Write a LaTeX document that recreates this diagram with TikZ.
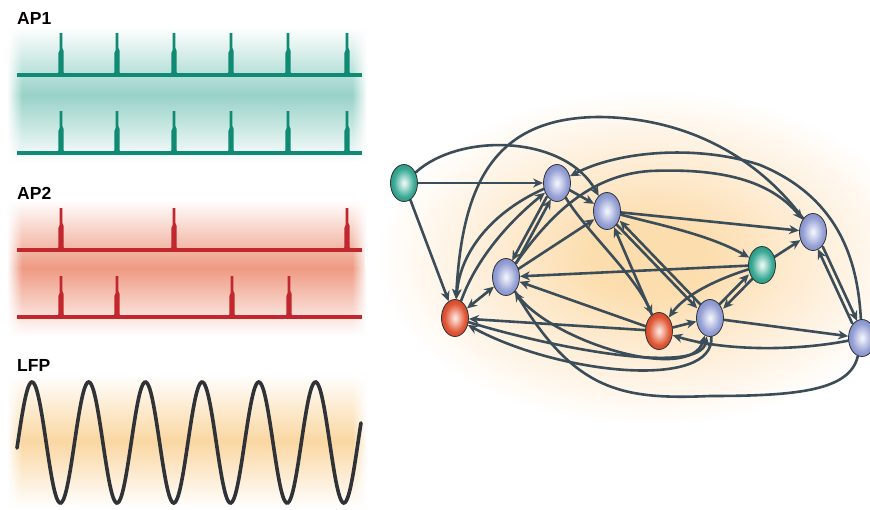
\documentclass[tikz,border=0pt]{standalone}
\usepackage{fontspec}
\setmainfont{Liberation Sans}
\usetikzlibrary{arrows.meta,fadings,shapes.geometric}
\definecolor{edgec}{HTML}{3A4D59}
\definecolor{nodeedge}{HTML}{2E3438}
\definecolor{bluein}{HTML}{EEF0FA}
\definecolor{blueout}{HTML}{95A0D4}
\definecolor{blueedge}{HTML}{8692CB}
\definecolor{greenin}{HTML}{E2F5F1}
\definecolor{greenout}{HTML}{3BAA95}
\definecolor{greenedge}{HTML}{2C9A84}
\definecolor{redin}{HTML}{FCE0D6}
\definecolor{redout}{HTML}{E05838}
\definecolor{rededge}{HTML}{D44A2C}
\definecolor{glowA}{HTML}{FCDDAD}
\definecolor{glowB}{HTML}{FEEDD6}
\definecolor{aponec}{HTML}{0F8A73}
\definecolor{aponebg}{HTML}{98D2C8}
\definecolor{aptwoc}{HTML}{C1272D}
\definecolor{aptwobg}{HTML}{EE9A82}
\definecolor{lfpc}{HTML}{2F3236}
\definecolor{lfpbg}{HTML}{FAD7A2}
\tikzfading[name=myfadeR, left color=transparent!0, right color=transparent!100]
\tikzfading[name=myfadeL, left color=transparent!100, right color=transparent!0]
\pgfdeclareradialshading{netglow}{\pgfpoint{0bp}{0bp}}{color(0bp)=(glowA); color(5bp)=(glowA); color(14bp)=(glowB); color(24bp)=(white); color(50bp)=(white)}
\pgfdeclareradialshading{bshade}{\pgfpoint{0bp}{0bp}}{color(0bp)=(bluein); color(2bp)=(bluein); color(19bp)=(blueout); color(25bp)=(blueedge); color(50bp)=(blueedge)}
\pgfdeclareradialshading{gshade}{\pgfpoint{0bp}{0bp}}{color(0bp)=(greenin); color(2bp)=(greenin); color(19bp)=(greenout); color(25bp)=(greenedge); color(50bp)=(greenedge)}
\pgfdeclareradialshading{rshade}{\pgfpoint{0bp}{0bp}}{color(0bp)=(redin); color(2bp)=(redin); color(19bp)=(redout); color(25bp)=(rededge); color(50bp)=(rededge)}
\pgfdeclarelayer{bg}
\pgfdeclarelayer{edgelayer}
\pgfsetlayers{bg,edgelayer,main}
\newcommand{\apspike}[3]{%
  \fill ({#1-1.4},#3) -- ({#1+1.4},#3) -- ({#1+1.4},{#3+15}) -- ({#1+2.6},{#3+18})
   -- ({#1+2.6},{#2-3}) -- ({#1+4},#2) -- ({#1-4},#2) -- ({#1-2.6},{#2-3})
   -- ({#1-2.6},{#3+20}) -- ({#1-1.4},{#3+17}) -- cycle;}
\begin{document}
\begin{tikzpicture}[x=1pt,y=-1pt,
  edge/.style={draw=edgec, line width=2.6pt, line cap=round, -{Stealth[length=10pt,width=9pt]}},
  edgeboth/.style={edge, {Stealth[length=10pt,width=9pt]}-{Stealth[length=10pt,width=9pt]}},
  neuron/.style={ellipse, draw=nodeedge, line width=0.8pt, minimum width=27pt, minimum height=37pt, inner sep=0pt},
  bnode/.style={neuron, shading=bshade},
  gnode/.style={neuron, shading=gshade},
  rnode/.style={neuron, shading=rshade},
  lbl/.style={anchor=base west, font=\fontsize{17.5}{20}\selectfont\bfseries, inner sep=0pt},
  trace/.style={line width=3.2pt}
]
\useasboundingbox (0,0) rectangle (870,509);

\begin{pgfonlayer}{bg}
  % panels
  \shade[top color=white, bottom color=white, middle color=aponebg] (8,27) rectangle (366,163);
  \shade[top color=white, bottom color=white, middle color=aptwobg] (8,200) rectangle (366,336);
  \shade[top color=white, bottom color=white, middle color=lfpbg] (8,374) rectangle (366,508);
  \foreach \ya/\yb in {27/163,200/336,374/508}{
    \fill[white, path fading=myfadeR] (7,\ya) rectangle (22,\yb);
    \fill[white, path fading=myfadeL] (352,\ya) rectangle (367,\yb);
  }
  % network glow
  \shade[shading=netglow] (650,258) ellipse [x radius=285, y radius=175];
\end{pgfonlayer}

% labels
\node[lbl] (t1) at (17,24) {AP1};
\node[lbl] (t2) at (17,199) {AP2};
\node[lbl] (t3) at (17,371) {LFP};

% AP1 traces
\begin{scope}[color=aponec, fill=aponec]
  \draw[trace] (17,75) -- (362,75);
  \draw[trace] (17,153) -- (362,153);
  \foreach \x in {61,117,174,231,288,347}{
    \apspike{\x}{75}{33}
    \apspike{\x}{153}{111}
  }
\end{scope}

% AP2 traces
\begin{scope}[color=aptwoc, fill=aptwoc]
  \draw[trace] (17,250) -- (362,250);
  \draw[trace] (17,317) -- (362,317);
  \foreach \x in {61,174,347}{ \apspike{\x}{250}{208} }
  \foreach \x in {61,117,232,289}{ \apspike{\x}{317}{276} }
\end{scope}

% LFP
\draw[lfpc, line width=3.6pt, line cap=round] plot[domain=17:361, samples=260, smooth] (\x,{442.5-60.5*sin((\x-32)*6.3492+90)});

% network nodes
\node[gnode] (G1) at (404,183) {};
\node[bnode] (B1) at (557,183) {};
\node[bnode] (B2) at (607,211) {};
\node[bnode] (B3) at (506,277) {};
\node[rnode] (R1) at (455,318) {};
\node[gnode] (G2) at (762,265) {};
\node[bnode] (B4) at (813,232) {};
\node[rnode] (R2) at (659,331) {};
\node[bnode] (B5) at (710,318) {};
\node[bnode] (B6) at (862,338) {};

\begin{pgfonlayer}{edgelayer}
\draw[edge] (G1) -- (B1);
\draw[edge] (G1) -- (R1);
\draw[edge] (G1) .. controls (460,132) and (565,135) .. (B2);
\draw[edge] (B4) .. controls (760,160) and (690,118) .. (600,117) .. controls (490,117) and (462,190) .. (R1);
\draw[edge] (B6) .. controls (858,270) and (845,200) .. (760,165) .. controls (700,145) and (620,150) .. (B1);
\draw[edge] (B3) .. controls (550,215) and (590,175) .. (650,171) .. controls (720,168) and (770,180) .. (B4);
\draw[edge] (B2) -- (B4);
\draw[edge] (G2) -- (B4);
\draw[edge, transform canvas={shift={(-2.5pt,-1.1pt)}}] (B6) -- (B4);
\draw[edge, transform canvas={shift={(2.5pt,1.1pt)}}] (B4) -- (B6);
\draw[edge] (B5) -- (B6);
\draw[edge] (B6) .. controls (790,352) and (720,350) .. (R2);
\draw[edge] (B6) .. controls (850,390) and (800,396) .. (710,396) .. controls (620,400) and (575,390) .. (B3);
\draw[edge] (B1) -- (B2);
\draw[edge, transform canvas={shift={(2.1pt,-1.15pt)}}] (B3) -- (B1);
\draw[edge, transform canvas={shift={(-2.1pt,1.15pt)}}] (B1) -- (B3);
\draw[edge] (R1) .. controls (475,262) and (505,225) .. (B1);
\draw[edge] (B1) .. controls (492,212) and (460,252) .. (R1);
\draw[edge] (B1) .. controls (585,230) and (635,275) .. (R2);
\draw[edge] (R2) -- (B2);
\draw[edge, transform canvas={shift={(1.8pt,1.7pt)}}] (B5) -- (B2);
\draw[edge, transform canvas={shift={(-1.8pt,-1.7pt)}}] (B2) -- (B5);
\draw[edge] (B3) -- (B2);
\draw[edge] (G2) -- (B3);
\draw[edge] (B2) .. controls (660,225) and (710,235) .. (G2);
\draw[edge] (R2) -- (R1);
\draw[edge] (R2) -- (B3);
\draw[edge] (R2) -- (B5);
\draw[edge, transform canvas={shift={(2pt,-2pt)}}] (G2) -- (B5);
\draw[edge, transform canvas={shift={(-2pt,2pt)}}] (B5) -- (G2);
\draw[edge] (G2) .. controls (715,280) and (685,295) .. (R2);
\draw[edge] (B3) .. controls (545,340) and (690,385) .. (B5);
\draw[edge] (R1) .. controls (560,350) and (700,375) .. (B5);
\draw[edge] (B5) .. controls (715,390) and (560,375) .. (R1);
\draw[edgeboth] (R1) -- (B3);
\end{pgfonlayer}
\end{tikzpicture}
\end{document}
